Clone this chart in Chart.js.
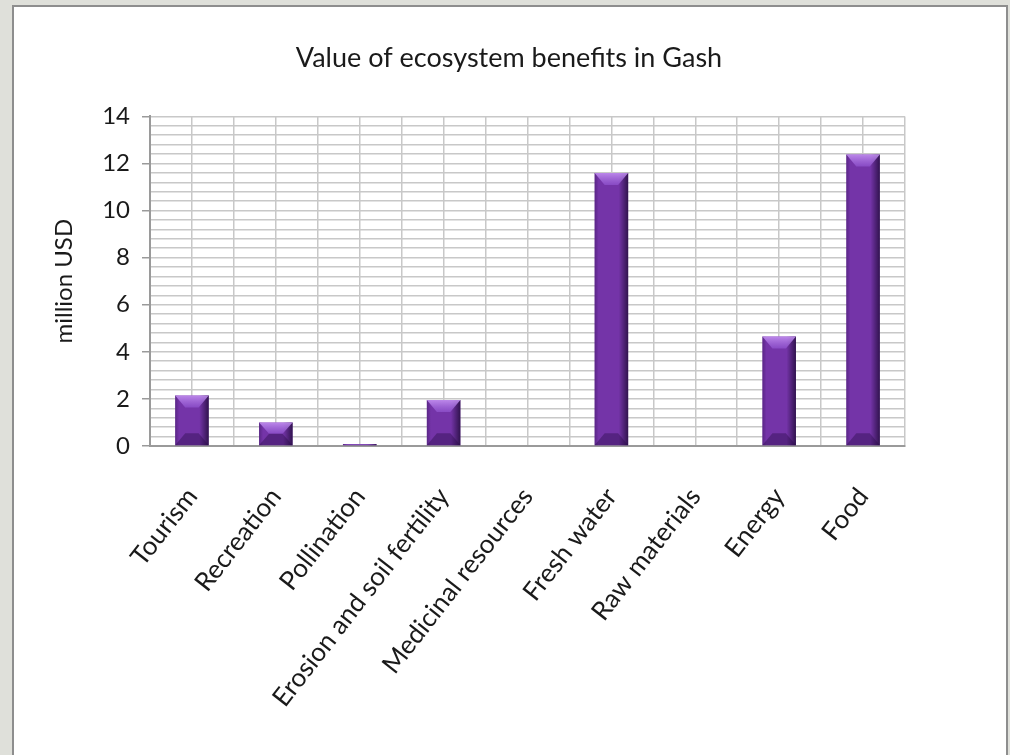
<!DOCTYPE html>
<html>
<head>
<meta charset="utf-8">
<script src="https://cdn.jsdelivr.net/npm/chart.js@4"></script>
<style>
  body { margin: 0; background: #dfe0da; overflow: hidden; }
  #frame { position: absolute; left: 12px; top: 5px; width: 992px; height: 760px;
           border: 2px solid #8e8e8e; background: #fff; }
</style>
</head>
<body>
<div id="frame"><canvas id="gashChart" width="992" height="750"></canvas></div>
<script>
// values (million USD)
var categories = ['Tourism', 'Recreation', 'Pollination', 'Erosion and soil fertility',
  'Medicinal resources', 'Fresh water', 'Raw materials', 'Energy', 'Food'];
var benefits = [2.15, 1.0, 0.08, 1.95, 0, 11.6, 0, 4.65, 12.38];
var yMax = 14;
var majorStep = 2;
var minorStep = 0.4;

var gridGray = '#c8c8c8';
var axisGray = '#9a9a9a';
var barPurple = '#7434a8';

function isMajor(v) {
  return Math.abs(v / majorStep - Math.round(v / majorStep)) < 1e-6;
}

// office-style bevel drawn over each bar
var bevel = {
  id: 'bevel',
  afterDatasetsDraw: function(chart) {
    var c = chart.ctx;
    chart.getDatasetMeta(0).data.forEach(function(bar) {
      var p = bar.getProps(['x', 'y', 'base', 'width'], true);
      var l = p.x - p.width / 2, r = p.x + p.width / 2;
      var top = p.y, bot = p.base, h = bot - top;
      if (h <= 0) return;
      var d = Math.min(12, h / 2), inset = p.width * 0.3;
      c.save();
      var g = c.createLinearGradient(l, 0, r, 0);
      g.addColorStop(0, 'rgba(40,10,70,0.35)');
      g.addColorStop(0.12, 'rgba(40,10,70,0)');
      g.addColorStop(0.72, 'rgba(20,5,40,0)');
      g.addColorStop(1, 'rgba(20,5,40,0.7)');
      c.fillStyle = g;
      c.fillRect(l, top, p.width, h);
      // top cap
      var tg = c.createLinearGradient(0, top, 0, top + d);
      tg.addColorStop(0, 'rgba(200,150,245,0.85)');
      tg.addColorStop(1, 'rgba(150,90,215,0.6)');
      c.beginPath();
      c.moveTo(l, top); c.lineTo(r, top);
      c.lineTo(r - inset, top + d); c.lineTo(l + inset, top + d);
      c.closePath();
      c.fillStyle = tg;
      c.fill();
      // bottom cap
      c.beginPath();
      c.moveTo(l, bot); c.lineTo(r, bot);
      c.lineTo(r - inset, bot - d); c.lineTo(l + inset, bot - d);
      c.closePath();
      c.fillStyle = 'rgba(40,10,70,0.4)';
      c.fill();
      c.restore();
    });
  }
};

Chart.defaults.font.family = 'Lato';
Chart.defaults.color = '#1a1a1a';

var ctx = document.getElementById('gashChart').getContext('2d');
var chart = new Chart(ctx, {
  type: 'bar',
  data: {
    labels: categories,
    datasets: [{
      label: 'million USD',
      data: benefits,
      backgroundColor: barPurple,
      barPercentage: 0.4,
      categoryPercentage: 1
    }]
  },
  options: {
    responsive: false,
    animation: false,
    layout: { padding: { left: 28, right: 30, top: 0, bottom: 0 } },
    plugins: {
      legend: { display: false },
      tooltip: { enabled: false },
      title: {
        display: true,
        text: 'Value of ecosystem benefits in Gash',
        color: '#1a1a1a',
        font: { size: 27, weight: 'normal' },
        padding: { top: 35, bottom: 42 }
      }
    },
    scales: {
      x: {
        grid: { color: gridGray, lineWidth: 1.5, drawTicks: false },
        border: { color: axisGray, width: 2 },
        ticks: { minRotation: 52, maxRotation: 52, padding: 36, autoSkip: false,
                 font: { size: 26 } },
        afterFit: function(s) { s.height = 311; }
      },
      x2: {
        type: 'category',
        position: 'bottom',
        offset: true,
        grid: { offset: false, color: gridGray, lineWidth: 1.5, drawTicks: false },
        border: { display: false },
        ticks: { display: false },
        afterFit: function(s) { s.height = 0; }
      },
      y: {
        min: 0,
        max: yMax,
        grid: {
          color: gridGray,
          lineWidth: 1.5,
          tickLength: 8,
          tickColor: function(c) { return isMajor(c.tick.value) ? axisGray : 'rgba(0,0,0,0)'; }
        },
        border: { color: axisGray, width: 2 },
        ticks: {
          stepSize: minorStep,
          autoSkip: false,
          padding: 12,
          font: { size: 24 },
          callback: function(v) { return isMajor(v) ? String(Math.round(v)) : ''; }
        },
        title: { display: true, text: 'million USD', font: { size: 24 }, padding: 8 },
        afterFit: function(s) { s.width = 108; }
      },
      yRight: {
        position: 'right',
        grid: { display: false },
        border: { display: false },
        ticks: { display: false },
        afterFit: function(s) { s.width = 71; }
      }
    }
  },
  plugins: [bevel]
});
</script>
</body>
</html>
